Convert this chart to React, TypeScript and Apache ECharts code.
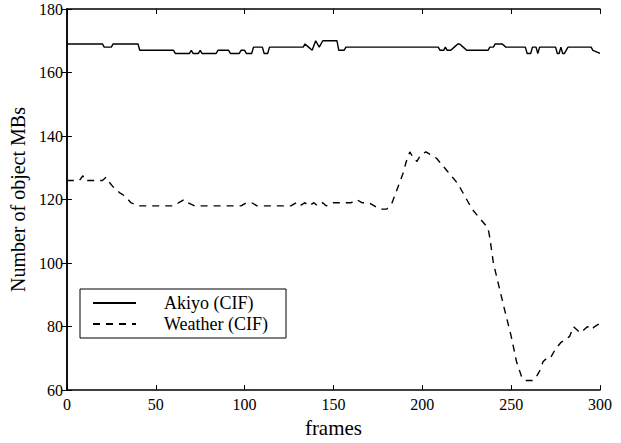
import React, { useEffect, useRef } from "react";
import * as echarts from "echarts";

const akiyoPoints: [number, number][] = [
  [0, 169], [20, 169], [21, 168], [25, 168], [26, 169], [40, 169], [41, 167], [60, 167],
  [61, 166], [69, 166], [70, 167], [71, 166], [74, 166], [75, 167], [76, 166], [84, 166],
  [85, 167], [91, 167], [92, 166], [97, 166], [98, 167], [100, 167], [101, 166], [104, 166],
  [105, 168], [110, 168], [111, 166], [113, 166], [114, 168], [133, 168], [134, 169], [136, 168],
  [138, 167], [140, 170], [142, 168], [144, 170], [152, 170], [153, 167], [156, 167], [157, 168],
  [209, 168], [210, 167], [212, 167], [213, 168], [214, 167], [216, 167], [218, 168], [220, 169],
  [221, 169], [223, 168], [225, 167], [237, 167], [238, 168], [240, 168], [241, 169], [245, 169],
  [247, 168], [258, 168], [259, 166], [261, 166], [262, 168], [264, 168], [265, 166], [266, 168],
  [275, 168], [276, 166], [277, 166], [278, 168], [279, 166], [280, 166], [282, 168], [295, 168],
  [296, 167], [300, 166],
];

const weatherPoints: [number, number][] = [
  [0, 126], [7, 126], [9, 127.5], [10, 126], [20, 126], [22, 127], [23, 126], [26, 124],
  [30, 122], [33, 121], [36, 119], [40, 118], [60, 118], [63, 119], [66, 120], [68, 119],
  [72, 118], [98, 118], [101, 119], [104, 119], [107, 118], [126, 118], [129, 119], [131, 118],
  [134, 119], [136, 118], [139, 119], [141, 118], [144, 119], [146, 118], [150, 119], [160, 119],
  [163, 120], [166, 119], [170, 119], [173, 118], [176, 117], [180, 117], [183, 119], [185, 122],
  [187, 125], [189, 128], [191, 132], [193, 135], [195, 133], [197, 132], [199, 134], [202, 135],
  [205, 134], [208, 133], [211, 131], [214, 129], [217, 127], [220, 125], [222, 123], [224, 121],
  [226, 119], [228, 117], [231, 115], [234, 113], [237, 111], [238, 108], [240, 100], [243, 93],
  [246, 86], [250, 77], [253, 69], [256, 64], [258, 63], [262, 63], [264, 64], [266, 66],
  [268, 69], [270, 70], [272, 70], [275, 73], [278, 75], [281, 76], [283, 77], [285, 80],
  [287, 79], [289, 78], [291, 79], [293, 80], [295, 79], [297, 80], [300, 81],
];

const seriesNames = ["Akiyo (CIF)", "Weather (CIF)"];
const xTicks = { min: 0, max: 300, interval: 50 };
const yTicks = { min: 60, max: 180, interval: 20 };
const xName = "frames";
const yName = "Number of object MBs";

const FONT = "Liberation Serif";

export default function App() {
  const ref = useRef<HTMLDivElement>(null);
  useEffect(() => {
    if (!ref.current) return;
    const chart = echarts.init(ref.current, undefined, { renderer: "svg" });
    const axisLine = { show: true, lineStyle: { color: "#000", width: 1.5 } };
    const tick = { show: true, inside: true, length: 5, lineStyle: { color: "#000", width: 1 } };
    const hiddenSymbol = { color: "transparent", borderColor: "transparent", borderWidth: 0, opacity: 0 };
    chart.setOption({
      animation: false,
      backgroundColor: "#fff",
      textStyle: { fontFamily: FONT, color: "#000" },
      grid: { left: 63, right: 21, top: 9, bottom: 43, containLabel: false },
      legend: {
        orient: "vertical",
        left: 80,
        top: 289,
        data: seriesNames.map((name) => ({ name, itemStyle: hiddenSymbol })),
        itemStyle: hiddenSymbol,
        itemWidth: 43,
        itemHeight: 14,
        itemGap: 3,
        padding: [5, 18, 5, 12],
        borderColor: "#000",
        borderWidth: 1,
        backgroundColor: "#fff",
        textStyle: {
          fontFamily: FONT,
          fontSize: 18,
          color: "#000",
          padding: [0, 0, 0, 23],
        },
      },
      xAxis: [
        {
          type: "value",
          position: "bottom",
          min: xTicks.min,
          max: xTicks.max,
          interval: xTicks.interval,
          name: xName,
          nameLocation: "middle",
          nameGap: 23,
          nameTextStyle: { fontFamily: FONT, fontSize: 21, color: "#000" },
          axisLine,
          axisTick: tick,
          axisLabel: { fontFamily: FONT, fontSize: 16, color: "#000", margin: 6 },
          splitLine: { show: false },
        },
        {
          type: "value",
          position: "top",
          min: xTicks.min,
          max: xTicks.max,
          interval: xTicks.interval,
          axisLine,
          axisTick: tick,
          axisLabel: { show: false },
          splitLine: { show: false },
        },
      ],
      yAxis: [
        {
          type: "value",
          position: "left",
          min: yTicks.min,
          max: yTicks.max,
          interval: yTicks.interval,
          name: yName,
          nameLocation: "middle",
          nameGap: 27,
          nameTextStyle: { fontFamily: FONT, fontSize: 20, color: "#000" },
          axisLine,
          axisTick: tick,
          axisLabel: { fontFamily: FONT, fontSize: 16, color: "#000", margin: 4 },
          splitLine: { show: false },
        },
        {
          type: "value",
          position: "right",
          min: yTicks.min,
          max: yTicks.max,
          interval: yTicks.interval,
          axisLine,
          axisTick: tick,
          axisLabel: { show: false },
          splitLine: { show: false },
        },
      ],
      series: [
        {
          name: seriesNames[0],
          type: "line",
          data: akiyoPoints,
          symbol: "none",
          color: "#000",
          lineStyle: { color: "#000", width: 1.4, type: "solid" },
        },
        {
          name: seriesNames[1],
          type: "line",
          data: weatherPoints,
          symbol: "none",
          color: "#000",
          lineStyle: { color: "#000", width: 1.4, type: [7, 6] },
        },
      ],
    });
    return () => chart.dispose();
  }, []);
  return (
    <div
      ref={ref}
      style={{ position: "fixed", left: 0, top: 0, width: 621, height: 443, background: "#fff" }}
    />
  );
}
